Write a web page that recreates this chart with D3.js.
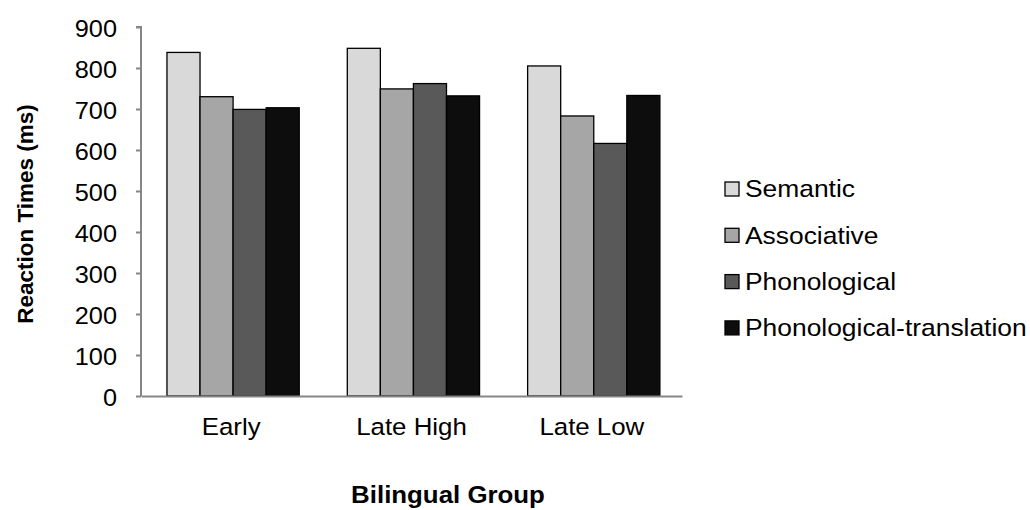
<!DOCTYPE html>
<html><head><meta charset="utf-8">
<script src="https://cdn.jsdelivr.net/npm/d3@7"></script>
<style>body{margin:0;background:#fff}text{font-family:"Liberation Sans",Arial,sans-serif;fill:#000}</style>
</head><body><svg id="c" width="1030" height="510"></svg>
<script>
const categories = ["Early", "Late High", "Late Low"];
const seriesNames = ["Semantic", "Associative", "Phonological", "Phonological-translation"];
const semantic = [838, 848, 805];
const associative = [730, 749, 683];
const phonological = [699, 762, 616];
const phonTranslation = [703, 732, 733];
const yTicks = [0, 100, 200, 300, 400, 500, 600, 700, 800, 900];
const colors = ["#d9d9d9", "#a6a6a6", "#595959", "#0d0d0d"];

const series = [semantic, associative, phonological, phonTranslation];
const svg = d3.select("#c");
const L = 141, R = 682, T = 27, B = 396;
const SX = 1.1; // horizontal stretch of the reference text
const x = d3.scaleBand().domain(categories).range([L, R]).paddingInner(0).paddingOuter(0);
const y = d3.scaleLinear().domain([0, 900]).range([B, T]);
const xs = d3.scaleBand().domain(d3.range(4)).range([0, x.bandwidth()])
  .paddingInner(0).paddingOuter(0.727).align(0.54);

// bars
const g = svg.append("g");
categories.forEach((c, i) => {
  series.forEach((s, k) => {
    g.append("rect")
      .attr("x", x(c) + xs(k))
      .attr("y", y(s[i]))
      .attr("width", xs.bandwidth())
      .attr("height", B - y(s[i]))
      .attr("fill", colors[k])
      .attr("stroke", "#000")
      .attr("stroke-width", 1.3);
  });
});

// y axis
const ya = svg.append("g").attr("transform", `translate(${L},0)`)
  .call(d3.axisLeft(y).tickValues(yTicks).tickSize(5).tickPadding(19));
ya.select(".domain").attr("stroke", "#868686").attr("stroke-width", 2).attr("d", `M-5,${T}H0V${B}`);
ya.selectAll(".tick line").attr("stroke", "#868686").attr("stroke-width", 2);
ya.selectAll(".tick text").style("font-size", "23px").attr("x", 0).attr("dy", "0.43em")
  .attr("transform", `translate(-24,0) scale(${SX},1)`);

// x axis
const xa = svg.append("g").attr("transform", `translate(0,${B})`)
  .call(d3.axisBottom(x).tickSize(0).tickPadding(22));
xa.select(".domain").attr("stroke", "#868686").attr("stroke-width", 2);
xa.selectAll(".tick text").style("font-size", "23.5px").attr("y", 0).attr("dy", "0.71em")
  .attr("transform", `translate(0,22) scale(${SX},1)`);

// titles
svg.append("text").attr("transform", `translate(448,503) scale(${SX},1)`).attr("text-anchor", "middle")
  .style("font-size", "23.5px").style("font-weight", "bold").text("Bilingual Group");
svg.append("text").attr("transform", "translate(33,214) rotate(-90)").attr("text-anchor", "middle")
  .style("font-size", "22.5px").style("font-weight", "bold").text("Reaction Times (ms)");

// legend
const lg = svg.append("g");
seriesNames.forEach((n, k) => {
  const cy = 189 + k * 46.3;
  lg.append("rect").attr("x", 725).attr("y", cy - 7).attr("width", 14).attr("height", 14)
    .attr("fill", colors[k]).attr("stroke", "#000").attr("stroke-width", 1.3);
  lg.append("text").attr("transform", `translate(745,${cy}) scale(${SX},1)`).attr("dy", "0.35em")
    .style("font-size", "24px").text(n);
});
</script></body></html>
